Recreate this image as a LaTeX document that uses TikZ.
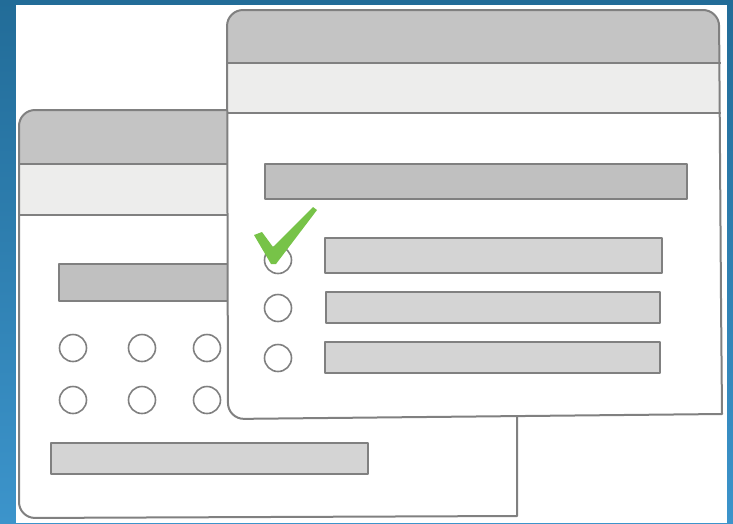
\documentclass[tikz,border=0pt]{standalone}
\definecolor{bgtop}{RGB}{34,108,152}
\definecolor{bgbot}{RGB}{60,148,203}
\definecolor{titlegray}{RGB}{196,196,196}
\definecolor{lightband}{RGB}{237,237,236}
\definecolor{darkbar}{RGB}{192,192,192}
\definecolor{lightbar}{RGB}{212,212,212}
\definecolor{outline}{RGB}{128,128,128}
\definecolor{checkgreen}{RGB}{119,195,72}
\begin{document}
\begin{tikzpicture}[x=1pt,y=-1pt,line join=round,
  winline/.style={draw=outline,line width=2pt},
  sepline/.style={draw=outline,line width=2pt},
  darkbox/.style={draw=outline,line width=2pt,fill=darkbar},
  lightbox/.style={draw=outline,line width=2pt,fill=lightbar},
  radio/.style={circle,draw=outline,line width=1.6pt,minimum size=27pt,inner sep=0pt,fill=white}]
\useasboundingbox (0,0) rectangle (733,523);
% background
\shade[top color=bgtop,bottom color=bgbot] (0,0) rectangle (733,523);
\fill[white] (16,5) rectangle (727,523);

% ---------- back window ----------
\fill[white] (517,400) [rounded corners=16pt] -- (517,110) -- (19,110) -- (19,518) [sharp corners] -- (517,516) -- cycle;
\begin{scope}
  \clip (517,400) [rounded corners=16pt] -- (517,110) -- (19,110) -- (19,518) [sharp corners] -- (517,516) -- cycle;
  \fill[titlegray] (19,110) rectangle (517,164);
  \fill[lightband] (19,164) rectangle (517,215);
\end{scope}
\draw[sepline] (19,164) -- (517,164);
\draw[sepline] (19,215) -- (517,215);
\draw[winline] (517,400) [rounded corners=16pt] -- (517,110) -- (19,110) -- (19,518) [sharp corners] -- (517,516) -- cycle;

\draw[darkbox] (59,264) rectangle (240,301);
\node[radio] (b11) at (73,348) {};
\node[radio] (b12) at (142,348) {};
\node[radio] (b13) at (207,348) {};
\node[radio] (b21) at (73,400) {};
\node[radio] (b22) at (142,400) {};
\node[radio] (b23) at (207,400) {};
\draw[lightbox] (51,443) rectangle (368,474);

% ---------- front window ----------
\fill[white] (721,300) [rounded corners=16pt] -- (719,10) -- (227,10) -- (228,419) [sharp corners] -- (722,414) -- cycle;
\begin{scope}
  \clip (721,300) [rounded corners=16pt] -- (719,10) -- (227,10) -- (228,419) [sharp corners] -- (722,414) -- cycle;
  \fill[titlegray] (227,10) rectangle (722,63);
  \fill[lightband] (227,63) rectangle (722,113);
\end{scope}
\draw[sepline] (227,63) -- (721,63);
\draw[sepline] (227,113) -- (721,113);
\draw[winline] (721,300) [rounded corners=16pt] -- (719,10) -- (227,10) -- (228,419) [sharp corners] -- (722,414) -- cycle;

\draw[darkbox] (265,164) rectangle (687,199);
\node[radio] (f1) at (278,260) {};
\node[radio] (f2) at (278,308) {};
\node[radio] (f3) at (278,358) {};
\draw[lightbox] (325,238) rectangle (662,273);
\draw[lightbox] (326,292) rectangle (660,323);
\draw[lightbox] (325,342) rectangle (660,373);

% check mark
\fill[checkgreen] (254,235) -- (262,232) -- (273,247) -- (313,207) -- (317,210) -- (276,264) -- (271,264) -- cycle;
\end{tikzpicture}
\end{document}
